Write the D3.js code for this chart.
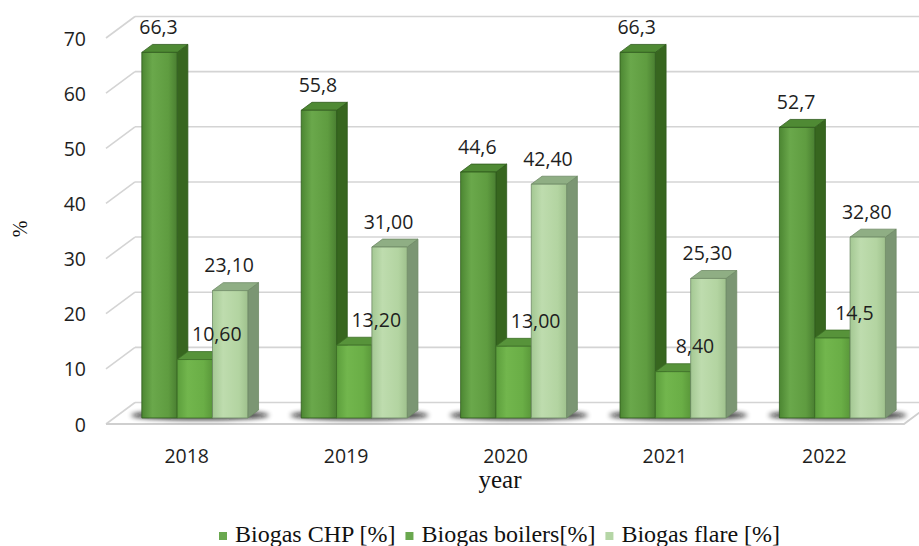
<!DOCTYPE html>
<html>
<head>
<meta charset="utf-8">
<script src="https://cdn.jsdelivr.net/npm/d3@7/dist/d3.min.js"></script>
<style>
  html, body { margin: 0; padding: 0; background: #fff; }
  svg { display: block; }
</style>
</head>
<body>
<svg id="chart" width="919" height="546"></svg>
<script>
// Biogas use by year, shares in percent
const years = ["2018", "2019", "2020", "2021", "2022"];
const chpValues = [66.3, 55.8, 44.6, 66.3, 52.7];
const boilerValues = [10.6, 13.2, 13.0, 8.4, 14.5];
const flareValues = [23.1, 31.0, 42.4, 25.3, 32.8];
const chpLabels = ["66,3", "55,8", "44,6", "66,3", "52,7"];
const boilerLabels = ["10,60", "13,20", "13,00", "8,40", "14,5"];
const flareLabels = ["23,10", "31,00", "42,40", "25,30", "32,80"];
const seriesNames = ["Biogas CHP [%]", "Biogas boilers[%]", "Biogas flare [%]"];
const yTicks = [0, 10, 20, 30, 40, 50, 60, 70];

const svg = d3.select("#chart");
const W = 919;

// front plane of the 3-D box and the depth offset towards the back wall
const x = d3.scaleBand().domain(years).range([107, 904]).paddingInner(0.335).paddingOuter(0.1675);
const xs = d3.scaleBand().domain([0, 1, 2]).range([0, x.bandwidth()]);
const y = d3.scaleLinear().domain([0, 70]).range([424, 38]);
const DX = 29, DY = -21.5;
const F1 = 0.28, F2 = 0.65; // bar depth span (fraction of the box depth)

const P = (px, v, f) => [px + f * DX, y(v) + f * DY];

const series = [
  { key: "chp", values: chpValues, labels: chpLabels,
    front: ["#4c8632", "#6aa84b", "#5f9c40", "#4a7f31"], top: "#4f8a34", side: "#37661f", edge: "#2f5a1c",
    legend: "#6aa84f", ldx: -1 },
  { key: "boil", values: boilerValues, labels: boilerLabels,
    front: ["#5c9e3c", "#72b64d", "#6aae46", "#5a983a"], top: "#57933a", side: "#3f6f28", edge: "#3e7027",
    legend: "#6aa84f", ldx: 22 },
  { key: "flare", values: flareValues, labels: flareLabels,
    front: ["#a4c893", "#bedcae", "#b3d4a1", "#9fc18d"], top: "#8fae84", side: "#7b9673", edge: "#6f8a66",
    legend: "#b5d6a6", ldx: -1 }
];

const defs = svg.append("defs");
series.forEach(s => {
  const g = defs.append("linearGradient").attr("id", "grad-" + s.key)
    .attr("x1", "0").attr("x2", "1").attr("y1", "0").attr("y2", "0");
  [0, 0.3, 0.75, 1].forEach((o, i) => g.append("stop").attr("offset", o).attr("stop-color", s.front[i]));
});
defs.append("filter").attr("id", "soft").attr("x", "-50%").attr("y", "-200%").attr("width", "200%").attr("height", "500%")
  .append("feGaussianBlur").attr("stdDeviation", 2.5);

// walls: back-wall gridlines and the slanted left-wall lines
const grid = svg.append("g").attr("stroke", "#d4d4d4").attr("stroke-width", 1.6).attr("fill", "none");
yTicks.forEach(t => {
  grid.append("line")
    .attr("x1", 106).attr("y1", y(t)).attr("x2", 106 + DX).attr("y2", y(t) + DY);
  grid.append("line")
    .attr("x1", 106 + DX).attr("y1", y(t) + DY).attr("x2", W).attr("y2", y(t) + DY);
});
// floor edge
const [fx0, fx1] = x.range();
grid.append("path")
  .attr("d", `M${fx0 - 1},${y(0)}L${fx1},${y(0)}L${fx1 + DX},${y(0) + DY}`)
  .attr("stroke", "#cfcfcf").attr("stroke-width", 2);

// soft shadows under each group
svg.append("g").selectAll("ellipse").data(years).join("ellipse")
  .attr("cx", d => x(d) + x.bandwidth() / 2 + 0.46 * DX)
  .attr("cy", y(0) + 0.5 * DY + 2)
  .attr("rx", x.bandwidth() / 2 + 16)
  .attr("ry", 4.5)
  .attr("fill", "#111").attr("opacity", 0.85)
  .attr("filter", "url(#soft)");

// bars: left to right inside each group so each front face covers its neighbour's side
const bars = svg.append("g");
years.forEach((yr, i) => {
  series.forEach((s, k) => {
    const v = s.values[i];
    const x0 = x(yr) + xs(k), x1 = x0 + xs.bandwidth();
    const poly = pts => "M" + pts.map(p => p.join(",")).join("L") + "Z";
    const g = bars.append("g").attr("stroke", s.edge).attr("stroke-width", 0.8).attr("stroke-linejoin", "round");
    g.append("path").attr("fill", s.side)
      .attr("d", poly([P(x1, v, F1), P(x1, v, F2), P(x1, 0, F2), P(x1, 0, F1)]));
    g.append("path").attr("fill", s.top)
      .attr("d", poly([P(x0, v, F1), P(x1, v, F1), P(x1, v, F2), P(x0, v, F2)]));
    g.append("path").attr("fill", `url(#grad-${s.key})`)
      .attr("d", poly([P(x0, v, F1), P(x1, v, F1), P(x1, 0, F1), P(x0, 0, F1)]));
  });
});

// value labels
const labelFont = "'Open Sans', 'DejaVu Sans', sans-serif";
const lab = svg.append("g").attr("font-family", labelFont).attr("font-size", 19.5)
  .attr("fill", "#1e1e1e").attr("text-anchor", "middle");
years.forEach((yr, i) => {
  series.forEach((s, k) => {
    const v = s.values[i];
    const cx = x(yr) + xs(k) + xs.bandwidth() / 2 + F1 * DX + s.ldx;
    lab.append("text")
      .attr("x", cx)
      .attr("y", y(v) + F1 * DY - 25)
      .attr("dy", "0.35em")
      .text(s.labels[i]);
  });
});

// axes
const yAxis = svg.append("g").attr("transform", "translate(86,0)")
  .call(d3.axisLeft(y).tickValues(yTicks).tickSize(0).tickPadding(0).tickFormat(d3.format("d")));
yAxis.select(".domain").remove();
yAxis.selectAll("text").attr("font-family", labelFont).attr("font-size", 19.5).attr("fill", "#1e1e1e")
  .attr("dy", "0.36em");

const xAxis = svg.append("g").attr("transform", `translate(0,${y(0)})`)
  .call(d3.axisBottom(x).tickSize(0).tickPadding(0));
xAxis.select(".domain").remove();
xAxis.selectAll("text").attr("font-family", labelFont).attr("font-size", 19.5).attr("fill", "#1e1e1e")
  .attr("y", 32).attr("dy", "0.35em");

// axis titles
const serif = "'Liberation Serif', 'Times New Roman', serif";
svg.append("text").attr("x", 500).attr("y", 488).attr("text-anchor", "middle")
  .attr("font-family", serif).attr("font-size", 25).attr("fill", "#111").text("year");
svg.append("text").attr("transform", "translate(27,229) rotate(-90)").attr("text-anchor", "middle")
  .attr("font-family", serif).attr("font-size", 20).attr("fill", "#111").text("%");

// legend
const legend = svg.append("g").attr("font-family", serif).attr("font-size", 24).attr("fill", "#111");
let lx = 219;
series.forEach((s, k) => {
  legend.append("rect").attr("x", lx).attr("y", 532).attr("width", 8).attr("height", 8).attr("fill", s.legend);
  const t = legend.append("text").attr("x", lx + 16).attr("y", 542).text(seriesNames[k]);
  lx += 16 + t.node().getComputedTextLength() + 10;
});
</script>
</body>
</html>
